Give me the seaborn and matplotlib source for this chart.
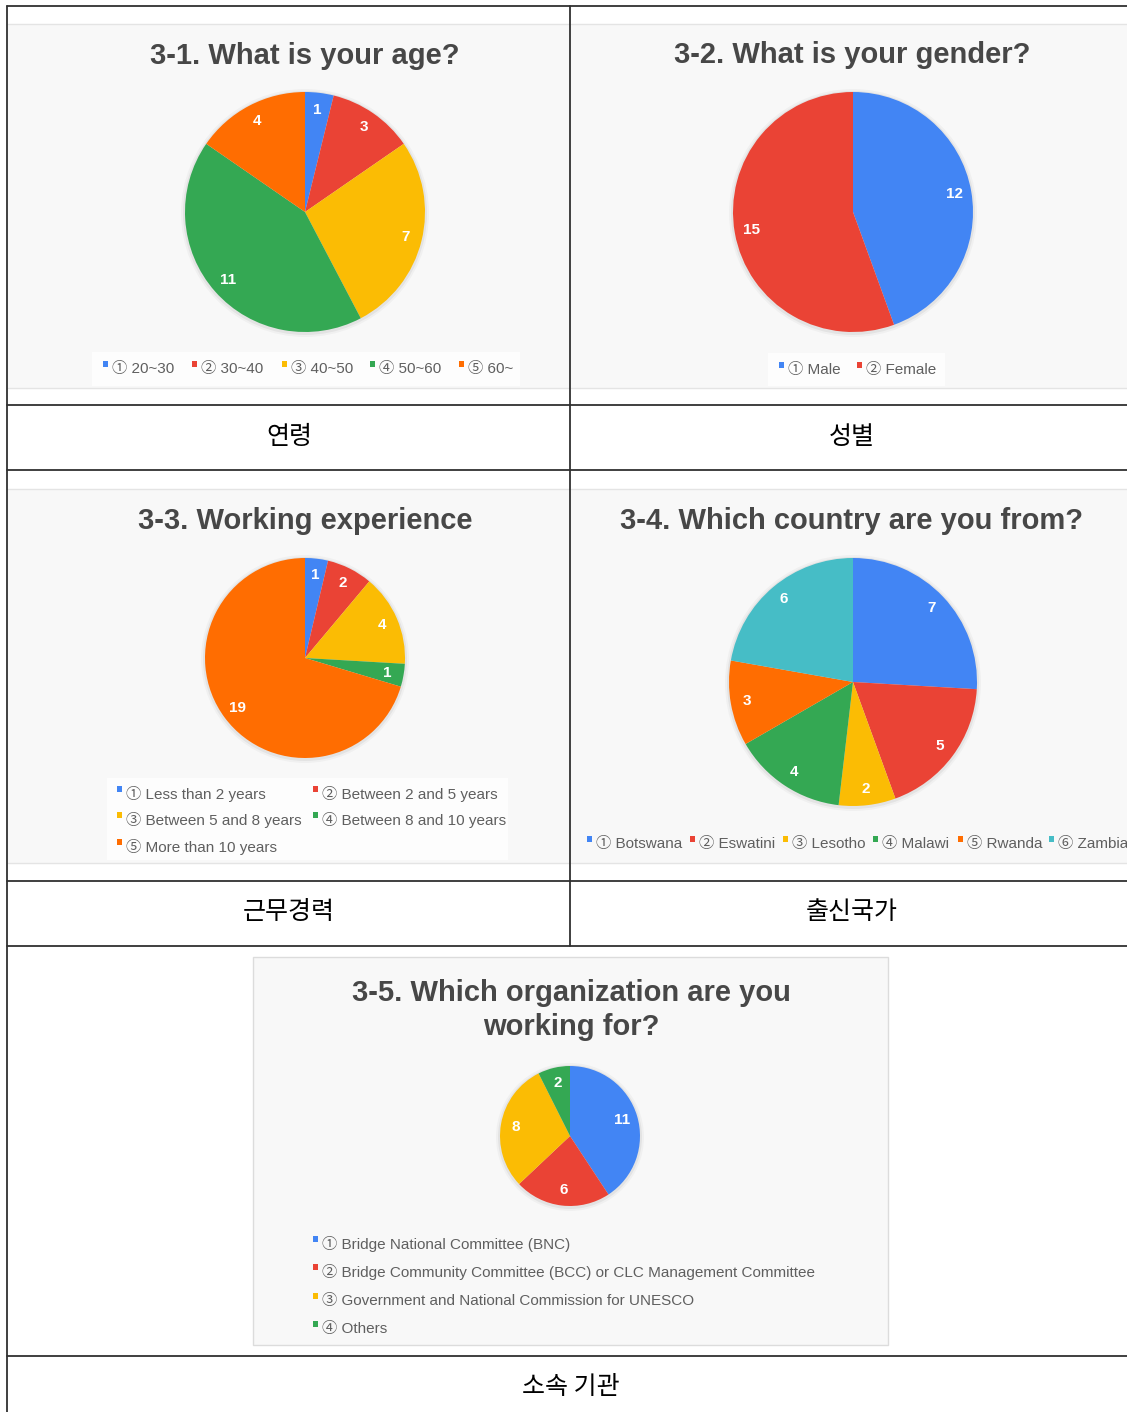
import matplotlib
matplotlib.use("Agg")
import matplotlib.pyplot as plt
import seaborn as sns
from matplotlib.patches import Rectangle, Circle

W, H = 1127, 1412

# ===== dados =====
age_labels = ["① 20~30", "② 30~40", "③ 40~50", "④ 50~60", "⑤ 60~"]
age_values = [1, 3, 7, 11, 4]

gender_labels = ["① Male", "② Female"]
gender_values = [12, 15]

exp_labels = ["① Less than 2 years", "② Between 2 and 5 years",
              "③ Between 5 and 8 years", "④ Between 8 and 10 years",
              "⑤ More than 10 years"]
exp_values = [1, 2, 4, 1, 19]

country_labels = ["① Botswana", "② Eswatini", "③ Lesotho",
                  "④ Malawi", "⑤ Rwanda", "⑥ Zambia"]
country_values = [7, 5, 2, 4, 3, 6]

org_labels = ["① Bridge National Committee (BNC)",
              "② Bridge Community Committee (BCC) or CLC Management Committee",
              "③ Government and National Commission for UNESCO",
              "④ Others"]
org_values = [11, 6, 8, 2]

titles = ["3-1. What is your age?", "3-2. What is your gender?",
          "3-3. Working experience", "3-4. Which country are you from?",
          "3-5. Which organization are you\nworking for?"]
captions = ["연령", "성별", "근무경력", "출신국가", "소속 기관"]

sns.set_theme(style="white")
plt.rcParams['font.family'] = ['Liberation Sans', 'Noto Sans CJK KR', 'DejaVu Sans']
palette = sns.color_palette(["#4285F4", "#EA4335", "#FBBC04", "#34A853", "#FF6D01", "#46BDC6"])

fig = plt.figure(figsize=(W / 100, H / 100), dpi=100)
fig.patch.set_facecolor("white")
ax = fig.add_axes([0, 0, 1, 1])


def Y(y):
    return H - y


# ===== fundos dos graficos =====
def chart_bg(x0, y0, x1, y1, border=False):
    ax.add_patch(Rectangle((x0, Y(y1)), x1 - x0, y1 - y0, facecolor="#f8f8f8",
                           edgecolor="#dcdcdc" if border else "none", lw=1, zorder=0))
    if not border:
        ax.plot([x0, x1], [Y(y0), Y(y0)], color="#e4e4e4", lw=1, zorder=1)
        ax.plot([x0, x1], [Y(y1), Y(y1)], color="#e4e4e4", lw=1, zorder=1)


chart_bg(8, 24, 569, 388)
chart_bg(571, 24, 1127, 388)
chart_bg(8, 489, 569, 863)
chart_bg(571, 489, 1127, 863)
chart_bg(253, 957, 888, 1345, border=True)


# ===== pizzas =====
def draw_pie(values, cx, cy, r, dist):
    total = sum(values)
    for k, a in [(4, 0.03), (2, 0.05)]:
        ax.add_patch(Circle((cx, Y(cy) - 1), r + k, color="black", alpha=a, lw=0, zorder=1))
    ax.pie(values, colors=palette[:len(values)], startangle=90, counterclock=False,
           center=(cx, Y(cy)), radius=r, pctdistance=dist,
           autopct=lambda p: f"{p * total / 100:.0f}",
           wedgeprops=dict(linewidth=0, zorder=2),
           textprops=dict(color="white", fontsize=11, fontweight="bold", zorder=3))


draw_pie(age_values, 305, 212, 120, 0.86)
draw_pie(gender_values, 853, 212, 120, 0.86)
draw_pie(exp_values, 305, 658, 100, 0.84)
draw_pie(country_values, 853, 682, 124, 0.87)
draw_pie(org_values, 570, 1136, 70, 0.78)


# ===== legendas =====
def draw_legend(labels, positions, box=None):
    if box:
        x0, y0, x1, y1 = box
        ax.add_patch(Rectangle((x0, Y(y1)), x1 - x0, y1 - y0, facecolor="white",
                               edgecolor="none", alpha=0.8, zorder=1))
    for lab, col, (x, y) in zip(labels, palette, positions):
        ax.add_patch(Rectangle((x, Y(y) + 2), 5, 6, color=col, lw=0, zorder=3))
        ax.text(x + 9, Y(y), lab, fontsize=11, color="#5f5f5f", va="center", ha="left", zorder=3)


draw_legend(age_labels, [(x, 369) for x in [103, 192, 282, 370, 459]], box=(92, 352, 520, 386))
draw_legend(gender_labels, [(779, 370), (857, 370)], box=(768, 353, 945, 386))
draw_legend(exp_labels, [(117, 794), (313, 794), (117, 820), (313, 820), (117, 847)],
            box=(107, 778, 508, 860))
draw_legend(country_labels, [(x, 844) for x in [587, 690, 783, 873, 958, 1049]])
draw_legend(org_labels, [(313, 1244), (313, 1272), (313, 1301), (313, 1329)])

# ===== titulos =====
title_pos = [(305, 56), (852, 55), (305, 521), (852, 521), (571, 1010)]
for t, (x, y) in zip(titles, title_pos):
    ax.text(x, Y(y), t, fontsize=21, fontweight="bold", color="#474747",
            ha="center", va="center", linespacing=1.25, zorder=3)

# ===== tabela =====
for y in [6, 405, 470, 881, 946, 1356]:
    ax.plot([7, W], [Y(y), Y(y)], color="#303030", lw=1.3, zorder=4)
ax.plot([7, 7], [Y(6), 0], color="#303030", lw=1.3, zorder=4)
ax.plot([570, 570], [Y(6), Y(946)], color="#303030", lw=1.3, zorder=4)

cap_pos = [(289, 437), (852, 437), (289, 912), (852, 912), (571, 1387)]
for c, (x, y) in zip(captions, cap_pos):
    ax.text(x, Y(y), c, fontsize=18, color="black", ha="center", va="center",
            family=['Noto Sans CJK KR', 'DejaVu Sans'], zorder=4)

ax.set_xlim(0, W)
ax.set_ylim(0, H)
ax.set_aspect("auto")
ax.axis("off")

fig.savefig("out.png", dpi=100, facecolor="white")
